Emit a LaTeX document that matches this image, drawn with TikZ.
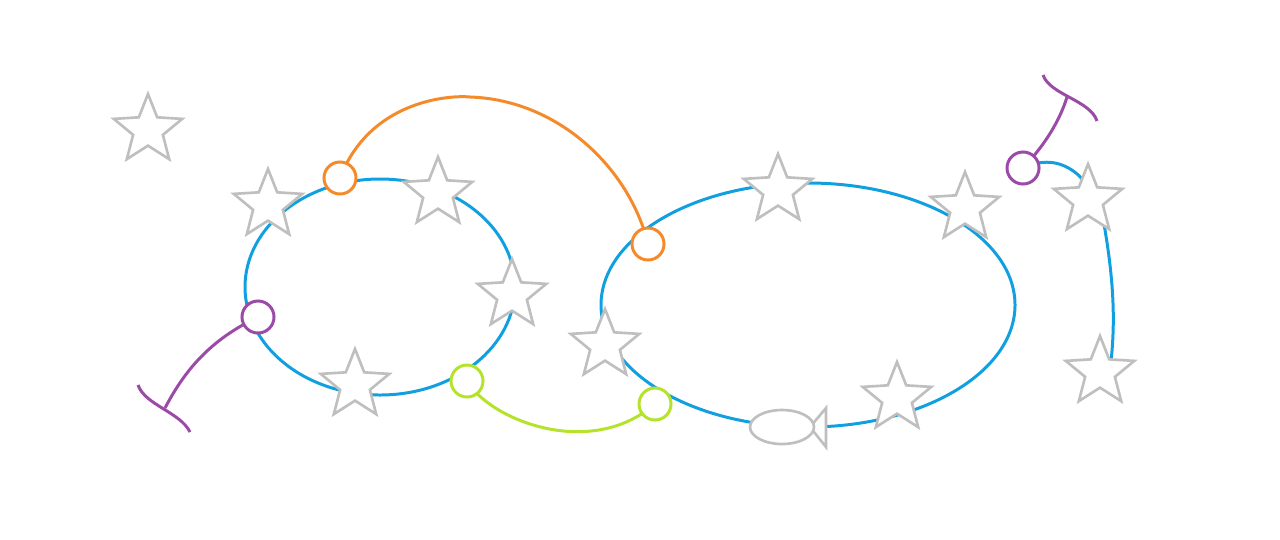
\documentclass[tikz,border=0pt]{standalone}
\usetikzlibrary{shapes.geometric}
\begin{document}
\begin{tikzpicture}[x=0.01cm,y=-0.01cm,
 bl/.style={draw=cyan!80!blue,line width=0.85pt},
 st/.style={star,star points=5,star point ratio=2.3,minimum size=0.72cm,draw=gray!50,fill=white,line width=0.75pt,inner sep=0pt},
 ring/.style={circle,minimum size=0.32cm,inner sep=0pt,fill=white,line width=0.85pt}]
\useasboundingbox (0,0) rectangle (1280,539);
\definecolor{bl}{HTML}{10A0E0}\definecolor{orn}{HTML}{F58A2A}\definecolor{grn}{HTML}{B5E22A}\definecolor{pur}{HTML}{9B4AA8}
\draw[draw=bl,line width=0.85pt] (380,287) ellipse (135 and 108);
\draw[draw=bl,line width=0.85pt] (808,305) ellipse (207 and 122);
\draw[draw=bl,line width=0.85pt] (1023,168) .. controls (1060,150) and (1095,175) .. (1105,230) .. controls (1115,290) and (1115,330) .. (1110,370);
\draw[orn,line width=0.85pt] (340,178) .. controls (370,100) and (450,95) .. (470,97) .. controls (560,100) and (630,170) .. (648,244);
\draw[grn,line width=0.85pt] (467,381) .. controls (490,420) and (590,460) .. (655,404);
\draw[pur,line width=0.85pt] (258,317) .. controls (210,340) and (185,370) .. (165,408);
\draw[pur,line width=0.85pt] (138,385) .. controls (145,405) and (180,412) .. (190,432);
\draw[pur,line width=0.85pt] (1023,168) .. controls (1045,145) and (1060,120) .. (1067,97);
\draw[pur,line width=0.85pt] (1043,75) .. controls (1050,95) and (1090,100) .. (1097,121);
\foreach \p/\n in {{(148,130)}/s1,{(268,205)}/s2,{(438,193)}/s3,{(512,295)}/s4,{(355,385)}/s5,{(605,345)}/s6,{(778,190)}/s7,{(965,208)}/s8,{(1088,200)}/s9,{(1100,372)}/s10,{(897,398)}/s11}
 \node[st] (\n) at \p {};
\node[ring,draw=orn] (o1) at (340,178) {};
\node[ring,draw=orn] (o2) at (648,244) {};
\node[ring,draw=grn] (g1) at (467,381) {};
\node[ring,draw=grn] (g2) at (655,404) {};
\node[ring,draw=pur] (p1) at (258,317) {};
\node[ring,draw=pur] (p2) at (1023,168) {};
\draw[gray!50,fill=white,line width=0.75pt] (810,427) -- (826,408) -- (826,447) -- cycle;
\draw[gray!50,fill=white,line width=0.75pt] (782,427) ellipse (32 and 17);
\end{tikzpicture}
\end{document}
